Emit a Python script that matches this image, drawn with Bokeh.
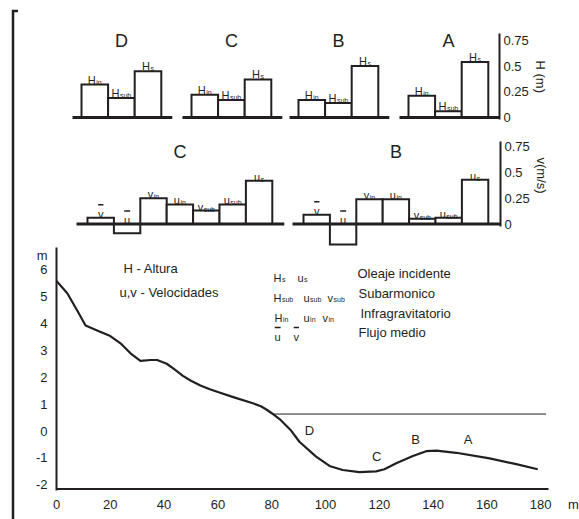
from bokeh.plotting import figure
from bokeh.layouts import row, column
from bokeh.models import (Range1d, LinearAxis, FixedTicker, NumeralTickFormatter,
                          CustomJSTickFormatter, ColumnDataSource, Title)
from bokeh.core.properties import value
from bokeh.embed import file_html
from bokeh.resources import INLINE

# ------------------------------------------------------------------ data
h_sites = ["D", "C", "B", "A"]
H_in = [0.32, 0.22, 0.17, 0.21]
H_sub = [0.19, 0.17, 0.14, 0.06]
H_s = [0.45, 0.37, 0.50, 0.54]
h_symbols = [("H", "in", False), ("H", "sub", False), ("H", "s", False)]
h_ticks = [0, 0.25, 0.5, 0.75]

v_sites = ["C", "B"]
v_mean = [0.06, 0.09]
u_mean = [-0.09, -0.20]
v_in = [0.25, 0.24]
u_in = [0.19, 0.24]
v_sub = [0.13, 0.05]
u_sub = [0.19, 0.06]
u_s = [0.42, 0.43]
v_symbols = [("v", "", True), ("u", "", True), ("v", "in", False), ("u", "in", False),
             ("v", "sub", False), ("u", "sub", False), ("u", "s", False)]
v_ticks = [0, 0.25, 0.5, 0.75]

profile_x = [0, 4.0, 7.7, 10.8, 15.1, 20.0, 23.8, 27.5, 31.2, 35.0, 37.4, 41.0, 44.0,
             47.0, 50.0, 53.5, 57.0, 60.0, 66.0, 73.0, 76.0, 78.3, 80.0, 83.3, 87.0,
             90.3, 96.5, 101.5, 106.4, 112.6, 118.8, 121.9, 126.3, 132.5, 137.4,
             141.2, 148.6, 161.0, 170.9, 178.9]
profile_z = [5.58, 5.12, 4.48, 3.92, 3.74, 3.53, 3.26, 2.89, 2.61, 2.64, 2.64, 2.50, 2.28,
             2.05, 1.87, 1.69, 1.55, 1.45, 1.25, 1.03, 0.92, 0.78, 0.66, 0.41, 0.04,
             -0.40, -0.95, -1.30, -1.45, -1.53, -1.50, -1.42, -1.20, -0.93, -0.75,
             -0.73, -0.81, -1.02, -1.23, -1.42]
water_level = 0.63
water_x = [80.5, 182.0]
site_names = ["D", "C", "B", "A"]
site_x = [94.0, 119.0, 133.5, 153.0]
site_z = [0.02, -0.93, -0.33, -0.33]
depth_ticks = [-2, -1, 0, 1, 2, 3, 4, 5, 6]
dist_ticks = [0, 20, 40, 60, 80, 100, 120, 140, 160, 180]
dist_max = 182.9

notes = ["H  -  Altura", "u,v - Velocidades"]
legend_symbols = [[("H", "s", False), ("u", "s", False)],
                  [("H", "sub", False), ("u", "sub", False), ("v", "sub", False)],
                  [("H", "in", False), ("u", "in", False), ("v", "in", False)],
                  [("u", "", True), ("v", "", True)]]
legend_desc = ["Oleaje incidente", "Subarmonico", "Infragravitatorio", "Flujo medio"]

# ------------------------------------------------------------------ style / layout
INK = "#231f20"
FONT = "Liberation Sans"
MAIN_PX, SUB_PX = 11, 7
OVER_PX = 9            # overline height above the baseline

PAGE_W, PAGE_H = 579, 519
COL_X0 = 18            # page x where the panels start
H_GROUP_LEFT = [81, 191, 298, 408]
H_BAR_W = 26.6
V_GROUP_LEFT = [87, 303]
V_BAR_W = 26.4
PPU = 103.0            # px per m (bar panels)

# main plot mapping (page px)
MX0 = 56
MY_TOP, MY_BOT = 247, 490
XPPU = 2.69
YPPU = 26.9
Y0_PX = 430.5


def mx(px):
    return (px - MX0) / XPPU


def my(py):
    return (Y0_PX - py) / YPPU


def text_w(s, size):
    W = {"H": 0.722, "u": 0.556, "v": 0.5, "i": 0.222, "n": 0.556, "s": 0.5, "b": 0.556}
    return sum(W.get(c, 0.55) for c in s) * size


def build_symbols(entries, xppu, yppu):
    m = dict(x=[], y=[], text=[], xo=[], yo=[])
    s = dict(x=[], y=[], text=[], xo=[], yo=[])
    o = dict(x0=[], x1=[], y=[])
    for (x, y, main, sub, over, centered, gap, sub_drop) in entries:
        wm = text_w(main, MAIN_PX)
        ws = (text_w(sub, SUB_PX) + 0.5) if sub else 0
        left = -(wm + ws) / 2 if centered else 0
        m["x"].append(x); m["y"].append(y); m["text"].append(main)
        m["xo"].append(left); m["yo"].append(-gap)
        if sub:
            s["x"].append(x); s["y"].append(y); s["text"].append(sub)
            s["xo"].append(left + wm + 0.5); s["yo"].append(-gap + sub_drop)
        if over:
            o["x0"].append(x + (left + 0.2) / xppu)
            o["x1"].append(x + (left + wm) / xppu)
            o["y"].append(y + (gap + OVER_PX) / yppu)
    return m, s, o


def draw_symbols(p, entries, xppu, yppu):
    m, s, o = build_symbols(entries, xppu, yppu)
    p.text(x="x", y="y", text="text", x_offset="xo", y_offset="yo",
           source=ColumnDataSource(m), text_font=value(FONT), text_font_size=f"{MAIN_PX}px",
           text_color=INK, text_align="left", text_baseline="alphabetic")
    if s["x"]:
        p.text(x="x", y="y", text="text", x_offset="xo", y_offset="yo",
               source=ColumnDataSource(s), text_font=value(FONT), text_font_size=f"{SUB_PX}px",
               text_color=INK, text_align="left", text_baseline="alphabetic")
    if o["x0"]:
        p.segment(x0="x0", x1="x1", y0="y", y1="y", source=ColumnDataSource(o),
                  line_color=INK, line_width=1.6)


def base_fig(w, h, xr, yr, left=0, right=0, top=0, bottom=0):
    p = figure(width=w, height=h, x_range=xr, y_range=yr, output_backend="svg",
               toolbar_location=None, x_axis_type=None, y_axis_type=None,
               min_border_left=left, min_border_right=right,
               min_border_top=top, min_border_bottom=bottom)
    p.frame_align = False
    p.outline_line_color = None
    p.background_fill_color = "white"
    p.border_fill_color = "white"
    return p


def style_axis(ax, standoff):
    ax.axis_line_color = INK
    ax.axis_line_width = 2
    ax.major_tick_out = 0
    ax.major_tick_in = 0
    ax.minor_tick_out = 0
    ax.minor_tick_in = 0
    ax.major_label_standoff = standoff
    ax.major_label_text_font = FONT
    ax.major_label_text_font_size = "13px"
    ax.major_label_text_color = INK
    return ax


def bar_panel(height, page_top, zero_px, right_px, sites, group_left, bar_w, series,
              symbols, ticks, axis_top, unit_label, unit_offset, title_y_px, base_pad,
              gap, sub_drop):
    yr = Range1d((zero_px - (page_top + height)) / PPU, (zero_px - page_top) / PPU)
    p = base_fig(PAGE_W - COL_X0, height, Range1d(COL_X0, right_px), yr,
                 right=PAGE_W - right_px)
    lefts, rights, bots, tops = [], [], [], []
    b0, b1 = [], []
    tx, ty = [], []
    entries = []
    for gi, site in enumerate(sites):
        vals = [ser[gi] for ser in series]
        for bi, v in enumerate(vals):
            l = group_left[gi] + bi * bar_w
            lefts.append(l); rights.append(l + bar_w)
            bots.append(min(0, v)); tops.append(max(0, v))
            main, sub, over = symbols[bi]
            entries.append((l + bar_w / 2, max(0, v), main, sub, over, True, gap, sub_drop))
        g_end = group_left[gi] + len(vals) * bar_w
        b0.append(group_left[gi] - base_pad[0]); b1.append(g_end + base_pad[1])
        tx.append((group_left[gi] + g_end) / 2)
        ty.append((zero_px - title_y_px) / PPU)
    p.quad(left=lefts, right=rights, bottom=bots, top=tops, fill_color="white",
           line_color=INK, line_width=2, line_join="miter")
    p.segment(x0=b0, x1=b1, y0=[0] * len(b0), y1=[0] * len(b0), line_color=INK, line_width=3)
    p.text(x=tx, y=ty, text=sites, text_font=value(FONT), text_font_size="18px",
           text_color=INK, text_align="center", text_baseline="middle")
    draw_symbols(p, entries, 1.0, PPU)
    ax = LinearAxis(ticker=FixedTicker(ticks=ticks), bounds=(-0.02, axis_top),
                    formatter=NumeralTickFormatter(format="0.[00]"))
    style_axis(ax, 4)
    p.add_layout(ax, "right")
    p.add_layout(Title(text=unit_label, align="left", offset=unit_offset,
                       standoff=2, text_font=FONT, text_font_size="13px",
                       text_font_style="normal", text_color=INK), "right")
    return p


# ------------------------------------------------------------------ panels
fig_h = bar_panel(128, 0, 117, 499, h_sites, H_GROUP_LEFT, H_BAR_W,
                  [H_in, H_sub, H_s], h_symbols, h_ticks, 0.82, "H (m)", 60, 40, (9, 11),
                  5, 2.5)

fig_v = bar_panel(119, 128, 223.5, 500, v_sites, V_GROUP_LEFT, V_BAR_W,
                  [v_mean, u_mean, v_in, u_in, v_sub, u_sub, u_s], v_symbols, v_ticks,
                  0.80, "v(m/s)", 29, 151, (11, 12), 4, 2.5)

# main profile plot: frame runs to the right page edge so the trailing "m" fits
fig_m = base_fig(PAGE_W - COL_X0, PAGE_H - MY_TOP, Range1d(0, mx(PAGE_W)),
                 Range1d(my(MY_BOT), my(MY_TOP)),
                 left=MX0 - COL_X0, right=0, top=0, bottom=PAGE_H - MY_BOT)

yax = LinearAxis(ticker=FixedTicker(ticks=depth_ticks + [my(250)]),
                 formatter=CustomJSTickFormatter(code="return tick > 6.5 ? 'm' : String(tick)"))
xax = LinearAxis(ticker=FixedTicker(ticks=dist_ticks + [mx(573)]),
                 formatter=CustomJSTickFormatter(code="return tick > 185 ? 'm' : String(tick)"))
style_axis(yax, 9)
style_axis(xax, 6)
xax.axis_line_color = None
fig_m.add_layout(yax, "left")
fig_m.add_layout(xax, "below")

# distance axis baseline (ends at the last distance value, as in the figure)
fig_m.line([0, dist_max], [my(488.5), my(488.5)], line_color=INK, line_width=2)
fig_m.line(water_x, [water_level, water_level], line_color=INK, line_width=1)
fig_m.line(profile_x, profile_z, line_color=INK, line_width=2.2, line_join="round")
fig_m.text(x=site_x, y=site_z, text=site_names, text_font=value(FONT), text_font_size="13px",
           text_color=INK, text_align="center", text_baseline="middle")

fig_m.text(x=[mx(123), mx(119)], y=[my(268), my(292)], text=notes, text_font=value(FONT),
           text_font_size="13px", text_color=INK, text_align="left", text_baseline="middle")

LEG_ROW_Y = [273, 293, 313, 332]
LEG_SYM_X = [[273, 297], [273, 303, 327], [274, 303, 322], [274, 293]]
LEG_DESC_X = [357, 358, 360, 358]
entries = []
for r, syms in enumerate(legend_symbols):
    for c, (main, sub, over) in enumerate(syms):
        entries.append((mx(LEG_SYM_X[r][c]), my(LEG_ROW_Y[r]), main, sub, over, False, -4, 2.0))
draw_symbols(fig_m, entries, XPPU, YPPU)
fig_m.text(x=[mx(px) for px in LEG_DESC_X], y=[my(py) for py in LEG_ROW_Y], text=legend_desc,
           text_font=value(FONT), text_font_size="13px", text_color=INK,
           text_align="left", text_baseline="middle")

# left bracket
fig_l = base_fig(COL_X0, PAGE_H, Range1d(0, COL_X0), Range1d(PAGE_H, 0))
fig_l.line([17.5, 12.5, 12.5], [10.5, 10.5, PAGE_H], line_color=INK, line_width=2.5,
           line_join="miter")

layout = row(fig_l, column(fig_h, fig_v, fig_m, spacing=0), spacing=0)

open("out.html", "w").write(file_html(layout, INLINE))
